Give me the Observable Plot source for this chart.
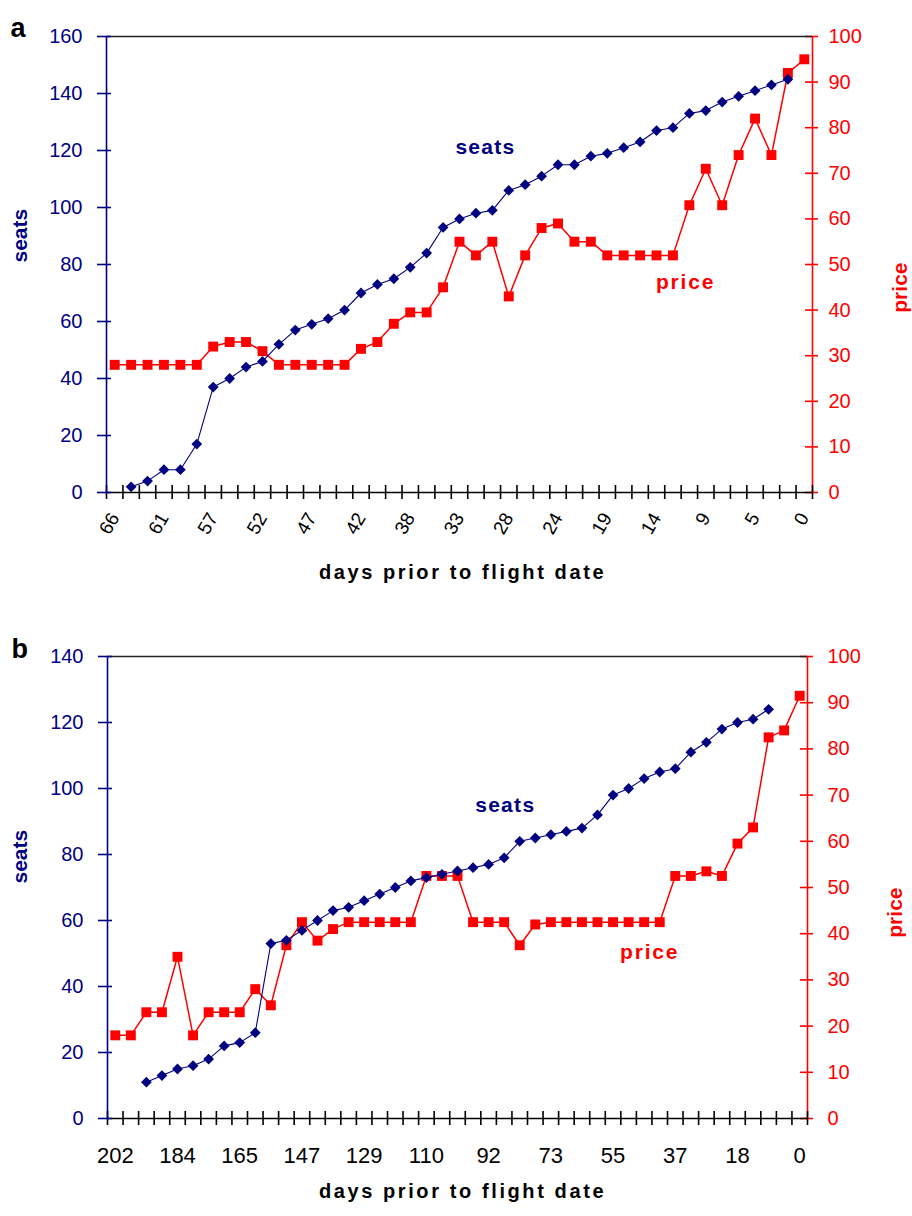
<!DOCTYPE html>
<html>
<head>
<meta charset="utf-8">
<script src="https://cdn.jsdelivr.net/npm/d3@7"></script>
<script src="https://cdn.jsdelivr.net/npm/@observablehq/plot@0.6"></script>
<style>
  body { margin: 0; background: #fff; }
  #root { position: relative; width: 912px; height: 1216px; background: #fff; overflow: hidden; }
  #root svg { position: absolute; left: 0; }
</style>
</head>
<body>
<div id="root"></div>
<script>
// ---------- data ----------
// Panel a: 43 observation days (categories), labels on every 3rd one
const daysA = ["66", "61", "57", "52", "47", "42", "38", "33", "28", "24", "19", "14", "9", "5", "0"];
const seatsA = [null, 2, 4, 8, 8, 17, 37, 40, 44, 46, 52, 57, 59, 61, 64, 70, 73, 75, 79, 84, 93,
  96, 98, 99, 106, 108, 111, 115, 115, 118, 119, 121, 123, 127, 128, 133, 134, 137, 139, 141, 143, 145, null];
const priceA = [28, 28, 28, 28, 28, 28, 32, 33, 33, 31, 28, 28, 28, 28, 28, 31.5, 33, 37, 39.5, 39.5, 45,
  55, 52, 55, 43, 52, 58, 59, 55, 55, 52, 52, 52, 52, 52, 63, 71, 63, 74, 82, 74, 92, 95];
const seatTicksA = [0, 20, 40, 60, 80, 100, 120, 140, 160];

// Panel b: 45 observation days (categories), labels on every 4th one
const daysB = ["202", "184", "165", "147", "129", "110", "92", "73", "55", "37", "18", "0"];
const seatsB = [null, null, 11, 13, 15, 16, 18, 22, 23, 26, 53, 54, 57, 60, 63, 64, 66, 68, 70, 72, 73,
  74, 75, 76, 77, 79, 84, 85, 86, 87, 88, 92, 98, 100, 103, 105, 106, 111, 114, 118, 120, 121, 124, null, null];
const priceB = [18, 18, 23, 23, 35, 18, 23, 23, 23, 28, 24.5, 37.5, 42.5, 38.5, 41, 42.5, 42.5, 42.5, 42.5, 42.5, 52.5,
  52.5, 52.5, 42.5, 42.5, 42.5, 37.5, 42, 42.5, 42.5, 42.5, 42.5, 42.5, 42.5, 42.5, 42.5, 52.5, 52.5, 53.5, 52.5, 59.5,
  63, 82.5, 84, 91.5];
const seatTicksB = [0, 20, 40, 60, 80, 100, 120, 140];

const priceTicks = [0, 10, 20, 30, 40, 50, 60, 70, 80, 90, 100];
const xTitle = "days prior to flight date";

// ---------- styling ----------
const NAVY = "#000080", RED = "#ff0000", BLACK = "#000";
const FONT = "'Liberation Sans', Arial, Helvetica, sans-serif";
const diamond = {
  draw(ctx, size) {
    const r = Math.sqrt(size / 2);
    ctx.moveTo(0, -r); ctx.lineTo(r, 0); ctx.lineTo(0, r); ctx.lineTo(-r, 0); ctx.closePath();
  }
};
const root = document.getElementById("root");

function spacing(svg, text, px) {
  d3.select(svg).selectAll("text").filter(function () { return this.textContent === text; })
    .style("letter-spacing", px + "px");
}

function makePanel(cfg) {
  const n = cfg.price.length;
  const rows = cfg.price.map((p, i) => ({i, price: p, seats: cfg.seats[i]}));
  const labelIdx = cfg.days.map((_, k) => k * cfg.step);
  const bounds = d3.range(n + 1).map(k => k - 0.5);
  const base = {
    width: 912, height: cfg.height,
    marginTop: cfg.mt, marginBottom: cfg.mb, marginLeft: cfg.ml, marginRight: cfg.mr,
    x: {domain: [-0.5, n - 0.5], axis: null},
    style: {background: "transparent", fontFamily: FONT, overflow: "visible"}
  };

  const priceSvg = Plot.plot({
    ...base,
    y: {domain: [0, 100], axis: null},
    marks: [
      Plot.ruleX([n - 0.5], {stroke: RED, strokeWidth: 1.6}),
      Plot.ruleY(priceTicks, {y: d => d, x1: n - 0.5, x2: n - 0.5, insetLeft: -7, insetRight: -6, stroke: RED, strokeWidth: 1.6}),
      Plot.axisY({anchor: "right", ticks: priceTicks, tickSize: 0, tickPadding: cfg.rPad, fontSize: 20, fill: RED, label: null}),
      Plot.line(rows, {x: "i", y: "price", stroke: RED, strokeWidth: 1.5}),
      Plot.dot(rows, {x: "i", y: "price", symbol: "square", r: 5.6, fill: RED}),
      Plot.text(["price"], {frameAnchor: "right", dx: cfg.priceTitleDx, dy: cfg.priceTitleDy, rotate: -90, fill: RED, fontWeight: "bold", fontSize: 21}),
      Plot.text(["price "], {x: cfg.priceNote[0], y: cfg.priceNote[1], fill: RED, fontWeight: "bold", fontSize: 21})
    ]
  });

  const xLabels = cfg.rotate
    ? Plot.text(labelIdx, {x: d => d, frameAnchor: "bottom", text: (d, k) => cfg.days[k], rotate: -60,
        textAnchor: "end", lineAnchor: "middle", dy: 22, fontSize: 19, fill: BLACK})
    : Plot.text(labelIdx, {x: d => d, frameAnchor: "bottom", text: (d, k) => cfg.days[k],
        textAnchor: "middle", lineAnchor: "top", dy: 29, fontSize: 22, fill: BLACK});

  const seatsSvg = Plot.plot({
    ...base,
    y: {domain: [0, cfg.seatsMax], axis: null},
    marks: [
      Plot.ruleY([cfg.seatsMax], {stroke: "#222", strokeWidth: 1.6}),
      Plot.ruleY([0], {stroke: BLACK, strokeWidth: 1.6}),
      Plot.ruleX(bounds, {x: d => d, y1: 0, y2: 0, insetTop: -7, insetBottom: -7, stroke: BLACK, strokeWidth: 1.6}),
      Plot.ruleX([-0.5], {stroke: NAVY, strokeWidth: 1.6}),
      Plot.ruleY(cfg.seatTicks, {y: d => d, x1: -0.5, x2: -0.5, insetLeft: -9, insetRight: -5, stroke: NAVY, strokeWidth: 1.6}),
      Plot.axisY({anchor: "left", ticks: cfg.seatTicks, tickSize: 0, tickPadding: 24, fontSize: 20, fill: NAVY, label: null}),
      xLabels,
      Plot.line(rows, {x: "i", y: "seats", stroke: NAVY, strokeWidth: 1.1}),
      Plot.dot(rows, {x: "i", y: "seats", symbol: diamond, r: 4.3, fill: NAVY}),
      Plot.text(["seats"], {frameAnchor: "left", dx: cfg.seatsTitleDx, dy: cfg.seatsTitleDy, rotate: -90, fill: NAVY, fontWeight: "bold", fontSize: 21}),
      Plot.text(["seats "], {x: cfg.seatsNote[0], y: cfg.seatsNote[1], fill: NAVY, fontWeight: "bold", fontSize: 21}),
      Plot.text([xTitle], {frameAnchor: "bottom", dx: cfg.titleDx, dy: cfg.titleDy, fill: BLACK, fontWeight: "bold", fontSize: 20}),
      Plot.text([cfg.letter], {frameAnchor: "top-left", dx: -96, dy: cfg.letterDy, textAnchor: "start", fill: BLACK, fontWeight: "bold", fontSize: 27})
    ]
  });

  spacing(seatsSvg, xTitle, 2.6);
  spacing(seatsSvg, "seats ", 1.3);
  spacing(priceSvg, "price ", 1.8);

  priceSvg.style.top = cfg.top + "px";
  seatsSvg.style.top = cfg.top + "px";
  root.append(priceSvg, seatsSvg);
}

makePanel({
  top: 0, height: 600, mt: 36, mb: 108, ml: 106, mr: 100,
  seats: seatsA, price: priceA, days: daysA, step: 3, seatsMax: 160, seatTicks: seatTicksA,
  rotate: true, rPad: 16, letter: "a", letterDy: -19,
  seatsTitleDx: -86, seatsTitleDy: -2, priceTitleDx: 88, priceTitleDy: -2,
  seatsNote: [22.8, 121], priceNote: [35.0, 46],
  titleDx: 3, titleDy: 86
});

makePanel({
  top: 620, height: 596, mt: 36, mb: 98, ml: 107, mr: 105,
  seats: seatsB, price: priceB, days: daysB, step: 4, seatsMax: 140, seatTicks: seatTicksB,
  rotate: false, rPad: 20, letter: "b", letterDy: -18,
  seatsTitleDx: -87, seatsTitleDy: -4, priceTitleDx: 88, priceTitleDy: 0,
  seatsNote: [25.3, 95], priceNote: [34.6, 36],
  titleDx: 5, titleDy: 79
});
</script>
</body>
</html>
